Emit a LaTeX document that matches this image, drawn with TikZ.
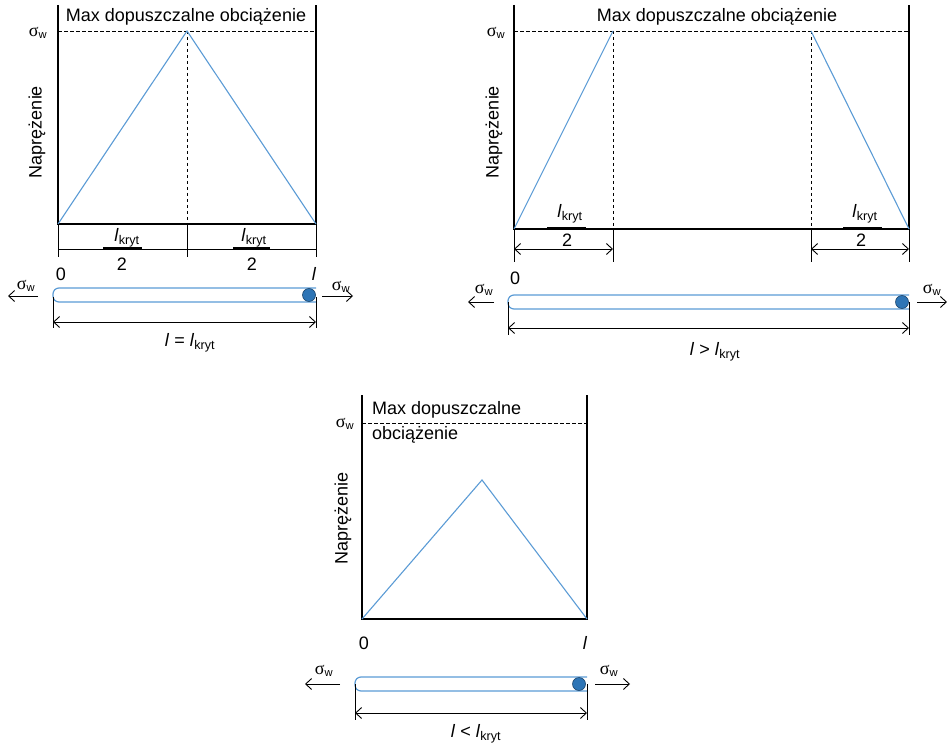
\documentclass[tikz,border=0pt]{standalone}
\usepackage{fontspec}
\setmainfont{Liberation Sans}
\newfontfamily\greekserif{Liberation Serif}
\usetikzlibrary{arrows.meta,positioning,calc}
\definecolor{curveblue}{RGB}{91,155,213}
\definecolor{rodblue}{RGB}{46,117,182}
\newcommand{\lk}{\textit{l}\textsubscript{kryt}}
\newcommand{\sigw}{{\greekserif\fontsize{18}{20}\selectfont σ}\textsubscript{w}}

\begin{document}
\begin{tikzpicture}[
  x=1pt, y=-1pt,
  wall/.style={line width=2.4pt},
  curve/.style={curveblue, line width=1.1pt},
  maxline/.style={line width=0.9pt, dash pattern=on 3.5pt off 2.5pt},
  thin/.style={line width=0.9pt},
  dimline/.style={thin, {Straight Barb[length=6pt,width=11pt]}-{Straight Barb[length=6pt,width=11pt]}},
  force/.style={thin, -{Straight Barb[length=6pt,width=11pt]}},
  rod/.style={draw=curveblue, line width=1.2pt},
  ball/.style={circle, fill=rodblue, draw=rodblue!60!black, line width=0.6pt,
    minimum size=13pt, inner sep=0pt},
  txt/.style={font=\fontsize{18}{21}\selectfont, inner sep=0pt},
  sig/.style={font=\fontsize{16}{18}\selectfont, inner sep=0pt},
  fracbar/.style={line width=2.6pt}
]
\useasboundingbox (0,0) rectangle (947,743);

% ---- panel 1: l = lkryt
\coordinate (a0) at (58,224);
\coordinate (a1) at (316,224);
\coordinate (apk) at (187,31);
\draw[wall] (58,5) -- (a0) -- (a1) -- (316,5);
\draw[maxline] (58,31) -- (316,31);
\draw[maxline] (apk) -- (187,224);
\draw[curve] (a0) -- (apk) -- (a1);
\node[sig] (asig) at (38,33) {\sigw};
\node[txt] (amax) at (186,17) {Max dopuszczalne obciążenie};
\node[txt, rotate=90] (anap) at (37,132) {Naprężenie};
\draw[thin] (a0) -- (58,257);
\draw[thin] (187,224) -- (187,257);
\draw[thin] (a1) -- (316,257);
\draw[thin] (58,249) -- (316,249);
\node[txt] (an1) at (127,238) {\lk};
\draw[fracbar] (103,248) -- (142,248);
\node[txt] (ad1) at (122,264) {2};
\node[txt] (an2) at (254,238) {\lk};
\draw[fracbar] (233,248) -- (270,248);
\node[txt] (ad2) at (252,264) {2};
\node[txt] (azero) at (61,274) {0};
\node[txt] (al) at (314,274) {\textit{l}};
\draw[rod, rounded corners=6pt] (316,288) -- (53,288) -- (53,302) [sharp corners] -- (316,302);
\node[ball] (aball) at (309,295) {};
\coordinate (aL) at (38,296);
\coordinate (aLt) at (8,296);
\draw[force] (aL) -- (aLt);
\node[sig] at (26,286) {\sigw};
\coordinate (aR) at (322,296);
\coordinate (aRt) at (353,296);
\draw[force] (aR) -- (aRt);
\node[sig] at (341,287) {\sigw};
\draw[thin] (53,297) -- (53,328);
\draw[thin] (316,297) -- (316,328);
\draw[dimline] (53,322) -- (316,322);
\node[txt] (alab) at (190,343) {\textit{l} = \lk};

% ---- panel 2: l > lkryt
\coordinate (b0) at (514,229);
\coordinate (b1) at (909,229);
\coordinate (bpk1) at (613,31);
\coordinate (bpk2) at (811,31);
\draw[wall] (514,5) -- (b0) -- (b1) -- (909,5);
\draw[maxline] (514,31) -- (909,31);
\draw[maxline] (bpk1) -- (613,229);
\draw[maxline] (bpk2) -- (811,229);
\draw[curve] (b0) -- (bpk1);
\draw[curve] (bpk2) -- (b1);
\node[sig] (bsig) at (496,33) {\sigw};
\node[txt] (bmax) at (717,17) {Max dopuszczalne obciążenie};
\node[txt, rotate=90] (bnap) at (494,132) {Naprężenie};
\draw[thin] (b0) -- (514,262);
\draw[thin] (613,229) -- (613,262);
\draw[thin] (811,229) -- (811,262);
\draw[thin] (b1) -- (909,262);
\draw[dimline] (514,249) -- (613,249);
\draw[dimline] (811,249) -- (909,249);
\node[txt] (bn1) at (570,214) {\lk};
\draw[fracbar] (547,228) -- (586,228);
\node[txt] (bd1) at (567,240) {2};
\node[txt] (bn2) at (865,214) {\lk};
\draw[fracbar] (843,228) -- (882,228);
\node[txt] (bd2) at (861,240) {2};
\node[txt] (bzero) at (515,278) {0};
\draw[rod, rounded corners=6pt] (909,295) -- (508,295) -- (508,309) [sharp corners] -- (909,309);
\node[ball] (bball) at (902,302) {};
\draw[force] (494,302) -- (468,302);
\node[sig] at (484,290) {\sigw};
\draw[force] (917,302) -- (947,302);
\node[sig] at (932,290) {\sigw};
\draw[thin] (508,302) -- (508,335);
\draw[thin] (909,302) -- (909,335);
\draw[dimline] (508,328) -- (909,328);
\node[txt] (blab) at (715,352) {\textit{l} > \lk};

% ---- panel 3: l < lkryt
\coordinate (c0) at (362,619);
\coordinate (c1) at (587,619);
\coordinate (cpk) at (482,480);
\draw[wall] (362,395) -- (c0) -- (c1) -- (587,395);
\draw[maxline] (362,423) -- (587,423);
\draw[curve] (c0) -- (cpk) -- (c1);
\node[sig] (csig) at (345,424) {\sigw};
\node[txt, anchor=west] (cmax1) at (372,410) {Max dopuszczalne};
\node[txt, anchor=west] (cmax2) at (372,435) {obciążenie};
\node[txt, rotate=90] (cnap) at (343,518) {Naprężenie};
\node[txt] (czero) at (364,643) {0};
\node[txt] (cl) at (585,643) {\textit{l}};
\draw[rod, rounded corners=6pt] (587,677) -- (355,677) -- (355,691) [sharp corners] -- (587,691);
\node[ball] (cball) at (579,684) {};
\draw[force] (340,684) -- (305,684);
\node[sig] at (324,671) {\sigw};
\draw[force] (595,684) -- (630,684);
\node[sig] at (609,671) {\sigw};
\draw[thin] (355,684) -- (355,720);
\draw[thin] (587,684) -- (587,720);
\draw[dimline] (355,713) -- (587,713);
\node[txt] (clab) at (476,734) {\textit{l} < \lk};
\end{tikzpicture}
\end{document}
